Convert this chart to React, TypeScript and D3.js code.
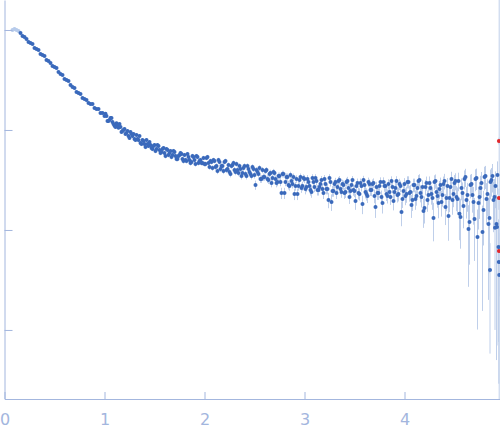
import React, { useEffect, useRef } from 'react';
import * as d3 from 'd3';

type Point = [number, number, number]; // q, intensity, sigma

// points left out of the fit (drawn pale)
const excluded: Point[] = [
  [0.08, 100, 1.2], [0.10, 102.3, 1.2], [0.12, 100, 1.1], [0.14, 97.7, 1.1],
];

const lowQ: Point[] = [
  [0.16, 93.3, 0.9], [0.18, 87.1, 0.9], [0.20, 85.1, 0.8], [0.22, 81.3, 0.8], [0.24, 75.9, 0.8],
  [0.26, 74.1, 0.7], [0.28, 72.4, 0.7], [0.30, 66.1, 0.7], [0.32, 64.6, 0.6], [0.34, 63.1, 0.6],
  [0.36, 57.5, 0.6], [0.38, 56.2, 0.6], [0.40, 55.0, 0.5], [0.42, 50.1, 0.5], [0.44, 49.0, 0.5],
  [0.46, 46.8, 0.5], [0.48, 43.7, 0.5], [0.50, 42.7, 0.5], [0.52, 41.7, 0.4], [0.54, 38.0, 0.4],
  [0.56, 36.3, 0.4], [0.58, 35.5, 0.4], [0.60, 32.4, 0.4], [0.62, 31.6, 0.4], [0.64, 30.9, 0.4],
  [0.66, 28.2, 0.35], [0.68, 26.9, 0.35], [0.70, 26.3, 0.35], [0.72, 24.0, 0.35], [0.74, 23.4, 0.35],
  [0.76, 22.9, 0.3], [0.78, 20.9, 0.3], [0.80, 20.4, 0.3], [0.82, 20.0, 0.3], [0.84, 18.6, 0.3],
  [0.86, 18.2, 0.3], [0.88, 18.2, 0.3], [0.90, 16.6, 0.3], [0.92, 16.2, 0.3], [0.94, 16.2, 0.3],
  [0.96, 14.8, 0.3], [0.98, 14.8, 0.3],
];

const midQ: Point[] = [
  [1.00, 13.8, 0.45], [1.02, 13.8, 0.45], [1.04, 12.3, 0.45], [1.06, 13.2, 0.45], [1.08, 12.0, 0.4],
  [1.10, 11.0, 0.4], [1.12, 11.7, 0.4], [1.14, 10.5, 0.4], [1.16, 10.7, 0.4], [1.18, 9.77, 0.4],
  [1.20, 10.2, 0.4], [1.22, 9.33, 0.38], [1.24, 8.71, 0.38], [1.26, 9.55, 0.38], [1.28, 8.71, 0.36],
  [1.30, 8.13, 0.36], [1.32, 8.91, 0.36], [1.34, 7.94, 0.35], [1.36, 7.41, 0.35], [1.38, 7.94, 0.35],
  [1.40, 7.24, 0.34], [1.42, 7.94, 0.34], [1.44, 6.92, 0.33], [1.46, 7.08, 0.33], [1.48, 6.46, 0.33],
  [1.50, 7.08, 0.32], [1.52, 6.46, 0.32], [1.54, 6.92, 0.32], [1.56, 5.89, 0.31], [1.58, 6.46, 0.31],
  [1.60, 5.89, 0.31], [1.62, 6.46, 0.3], [1.64, 5.62, 0.3], [1.66, 6.17, 0.3], [1.68, 5.62, 0.3],
  [1.70, 6.03, 0.3], [1.72, 5.13, 0.29], [1.74, 5.50, 0.29], [1.76, 5.89, 0.29], [1.78, 5.13, 0.29],
  [1.80, 5.62, 0.28], [1.82, 4.90, 0.28], [1.84, 5.37, 0.28], [1.86, 4.68, 0.28], [1.88, 5.50, 0.28],
  [1.90, 5.01, 0.27], [1.92, 5.50, 0.27], [1.94, 4.68, 0.27], [1.96, 5.01, 0.27], [1.98, 4.68, 0.27],
];

const midQOdd: Point[] = [
  [1.01, 14.5, 0.45], [1.03, 12.3, 0.45], [1.05, 12.6, 0.45], [1.07, 13.2, 0.42], [1.09, 11.5, 0.42],
  [1.11, 10.7, 0.4], [1.13, 11.2, 0.4], [1.15, 11.5, 0.4], [1.17, 9.55, 0.4], [1.19, 10.0, 0.4],
  [1.21, 9.12, 0.38], [1.23, 9.77, 0.38], [1.25, 8.32, 0.38], [1.27, 9.12, 0.37], [1.29, 9.12, 0.36],
  [1.31, 7.94, 0.36], [1.33, 8.13, 0.36], [1.35, 8.71, 0.35], [1.37, 7.24, 0.35], [1.39, 7.76, 0.35],
  [1.41, 6.76, 0.34], [1.43, 7.24, 0.34], [1.45, 7.59, 0.33], [1.47, 6.61, 0.33], [1.49, 6.92, 0.33],
  [1.51, 6.17, 0.32], [1.53, 7.08, 0.32], [1.55, 6.31, 0.32], [1.57, 6.03, 0.31], [1.59, 6.61, 0.31],
  [1.61, 5.50, 0.31], [1.63, 6.31, 0.3], [1.65, 5.89, 0.3], [1.67, 5.37, 0.3], [1.69, 6.17, 0.3],
  [1.71, 5.50, 0.3], [1.73, 5.13, 0.29], [1.75, 5.62, 0.29], [1.77, 5.75, 0.29], [1.79, 4.90, 0.29],
  [1.81, 5.01, 0.28], [1.83, 5.75, 0.28], [1.85, 5.01, 0.28], [1.87, 4.79, 0.28], [1.89, 5.37, 0.28],
  [1.91, 4.57, 0.27], [1.93, 5.37, 0.27], [1.95, 4.90, 0.27], [1.97, 4.68, 0.27], [1.99, 5.25, 0.27],
];

const plateauQ: Point[] = [
  [2.00, 4.57, 0.27], [2.02, 5.25, 0.27], [2.04, 4.68, 0.27], [2.06, 4.90, 0.27], [2.08, 4.17, 0.27],
  [2.10, 4.90, 0.27], [2.12, 4.37, 0.27], [2.14, 5.01, 0.27], [2.16, 4.07, 0.27], [2.18, 4.37, 0.27],
  [2.20, 4.79, 0.27], [2.22, 3.98, 0.27], [2.24, 4.47, 0.27], [2.26, 3.63, 0.27], [2.28, 4.47, 0.27],
  [2.30, 3.98, 0.27], [2.32, 4.57, 0.27], [2.34, 3.72, 0.27], [2.36, 4.07, 0.27], [2.38, 3.72, 0.27],
  [2.40, 4.37, 0.27], [2.42, 3.47, 0.27], [2.44, 4.07, 0.27], [2.46, 3.63, 0.27], [2.48, 4.27, 0.27],
  [2.50, 3.55, 0.28], [2.52, 3.98, 0.28], [2.54, 3.63, 0.28], [2.56, 3.24, 0.28], [2.58, 3.98, 0.28],
  [2.60, 3.39, 0.28], [2.62, 3.98, 0.28], [2.64, 3.16, 0.28], [2.66, 3.72, 0.28], [2.68, 3.31, 0.28],
  [2.70, 3.72, 0.28], [2.72, 2.95, 0.28], [2.74, 3.47, 0.28], [2.76, 3.02, 0.28], [2.78, 3.63, 0.28],
  [2.80, 2.34, 0.3], [2.82, 3.39, 0.28], [2.84, 2.82, 0.28], [2.86, 3.55, 0.28], [2.88, 2.88, 0.28],
  [2.90, 2.29, 0.3], [2.92, 3.24, 0.28], [2.94, 2.75, 0.28], [2.96, 3.39, 0.28], [2.98, 2.75, 0.28],
  [3.00, 3.24, 0.3], [3.02, 2.69, 0.3], [3.04, 3.02, 0.3], [3.06, 2.51, 0.3], [3.08, 3.31, 0.3],
  [3.10, 2.69, 0.3], [3.12, 3.09, 0.3], [3.14, 2.51, 0.3], [3.16, 2.88, 0.3], [3.18, 2.57, 0.3],
  [3.20, 3.24, 0.3], [3.22, 2.57, 0.3], [3.24, 2.00, 0.35], [3.26, 3.02, 0.3], [3.28, 2.45, 0.3],
  [3.30, 2.88, 0.3], [3.32, 2.34, 0.3], [3.34, 3.09, 0.3], [3.36, 2.57, 0.3], [3.38, 2.88, 0.3],
  [3.40, 2.34, 0.3], [3.42, 3.02, 0.3], [3.44, 2.63, 0.3], [3.46, 2.45, 0.3], [3.48, 3.16, 0.3],
  [3.50, 2.45, 0.32], [3.52, 2.75, 0.32], [3.54, 2.34, 0.32], [3.56, 2.95, 0.32], [3.58, 1.82, 0.38],
  [3.60, 2.82, 0.32], [3.62, 2.29, 0.32], [3.64, 3.02, 0.32], [3.66, 2.51, 0.32], [3.68, 2.88, 0.32],
  [3.70, 2.19, 0.34], [3.72, 2.69, 0.34], [3.74, 2.34, 0.34], [3.76, 3.02, 0.34], [3.78, 1.86, 0.4],
  [3.80, 2.75, 0.34], [3.82, 2.29, 0.34], [3.84, 2.88, 0.34], [3.86, 2.14, 0.36], [3.88, 2.69, 0.36],
  [3.90, 2.40, 0.36], [3.92, 3.09, 0.36], [3.94, 2.29, 0.36], [3.96, 2.75, 0.36], [3.98, 2.04, 0.38],
];

const plateauQOdd: Point[] = [
  [2.01, 4.57, 0.27], [2.03, 5.37, 0.27], [2.05, 4.27, 0.27], [2.07, 4.79, 0.27], [2.09, 5.01, 0.27],
  [2.11, 4.27, 0.27], [2.13, 3.89, 0.27], [2.15, 4.79, 0.27], [2.17, 4.37, 0.27], [2.19, 3.89, 0.27],
  [2.21, 4.90, 0.27], [2.23, 4.07, 0.27], [2.25, 3.80, 0.27], [2.27, 4.37, 0.27], [2.29, 4.68, 0.27],
  [2.31, 3.80, 0.27], [2.33, 3.98, 0.27], [2.35, 4.37, 0.27], [2.37, 3.47, 0.27], [2.39, 4.17, 0.27],
  [2.41, 3.63, 0.27], [2.43, 4.37, 0.27], [2.45, 3.80, 0.27], [2.47, 3.47, 0.27], [2.49, 4.07, 0.27],
  [2.51, 2.82, 0.3], [2.53, 3.80, 0.28], [2.55, 4.17, 0.28], [2.57, 3.24, 0.28], [2.59, 3.39, 0.28],
  [2.61, 3.89, 0.28], [2.63, 3.24, 0.28], [2.65, 3.63, 0.28], [2.67, 2.95, 0.28], [2.69, 3.80, 0.28],
  [2.71, 3.24, 0.28], [2.73, 3.02, 0.28], [2.75, 3.47, 0.28], [2.77, 2.34, 0.3], [2.79, 3.63, 0.28],
  [2.81, 3.02, 0.28], [2.83, 3.39, 0.28], [2.85, 2.75, 0.28], [2.87, 3.09, 0.28], [2.89, 3.39, 0.28],
  [2.91, 2.75, 0.28], [2.93, 2.29, 0.3], [2.95, 3.16, 0.28], [2.97, 2.63, 0.28], [2.99, 3.31, 0.28],
  [3.01, 2.57, 0.3], [3.03, 3.24, 0.3], [3.05, 2.75, 0.3], [3.07, 2.40, 0.3], [3.09, 3.02, 0.3],
  [3.11, 3.31, 0.3], [3.13, 2.51, 0.3], [3.15, 2.69, 0.3], [3.17, 3.16, 0.3], [3.19, 2.34, 0.3],
  [3.21, 2.88, 0.3], [3.23, 2.57, 0.3], [3.25, 3.31, 0.3], [3.27, 1.91, 0.36], [3.29, 2.45, 0.3],
  [3.31, 3.02, 0.3], [3.33, 2.69, 0.3], [3.35, 3.16, 0.3], [3.37, 2.40, 0.3], [3.39, 2.82, 0.3],
  [3.41, 2.40, 0.31], [3.43, 3.09, 0.31], [3.45, 2.14, 0.32], [3.47, 2.82, 0.31], [3.49, 2.51, 0.31],
  [3.51, 1.95, 0.36], [3.53, 2.95, 0.32], [3.55, 2.29, 0.32], [3.57, 2.75, 0.32], [3.59, 3.16, 0.32],
  [3.61, 2.40, 0.33], [3.63, 2.19, 0.33], [3.65, 2.88, 0.33], [3.67, 2.51, 0.33], [3.69, 2.95, 0.33],
  [3.71, 1.70, 0.38], [3.73, 2.34, 0.34], [3.75, 2.75, 0.34], [3.77, 2.14, 0.34], [3.79, 3.02, 0.34],
  [3.81, 2.75, 0.35], [3.83, 2.19, 0.35], [3.85, 2.40, 0.35], [3.87, 3.09, 0.35], [3.89, 1.95, 0.38],
  [3.91, 2.63, 0.36], [3.93, 2.24, 0.36], [3.95, 2.88, 0.37], [3.97, 1.51, 0.42], [3.99, 2.45, 0.38],
];

const highQ: Point[] = [
  [4.00, 2.88, 0.42], [4.02, 2.29, 0.42], [4.04, 3.02, 0.42], [4.06, 2.40, 0.42], [4.08, 2.00, 0.45],
  [4.10, 2.82, 0.44], [4.12, 2.19, 0.44], [4.14, 3.09, 0.45], [4.16, 2.34, 0.45], [4.18, 2.69, 0.45],
  [4.20, 1.66, 0.5], [4.22, 2.95, 0.47], [4.24, 2.24, 0.47], [4.26, 2.63, 0.48], [4.28, 2.09, 0.5],
  [4.30, 3.02, 0.5], [4.32, 2.40, 0.5], [4.34, 1.86, 0.55], [4.36, 2.82, 0.52], [4.38, 2.24, 0.53],
  [4.40, 3.09, 0.55], [4.42, 2.09, 0.55], [4.44, 1.38, 0.6], [4.46, 2.69, 0.57], [4.48, 2.00, 0.58],
];

const highQOdd: Point[] = [
  [4.01, 2.19, 0.42], [4.03, 3.02, 0.42], [4.05, 2.34, 0.42], [4.07, 1.78, 0.46], [4.09, 2.82, 0.44],
  [4.11, 2.04, 0.45], [4.13, 2.63, 0.45], [4.15, 3.16, 0.45], [4.17, 2.14, 0.46], [4.19, 1.55, 0.5],
  [4.21, 2.69, 0.47], [4.23, 2.00, 0.48], [4.25, 2.95, 0.48], [4.27, 2.29, 0.5], [4.29, 1.32, 0.55],
  [4.31, 3.09, 0.5], [4.33, 2.19, 0.52], [4.35, 2.57, 0.52], [4.37, 1.91, 0.55], [4.39, 2.88, 0.54],
  [4.41, 1.70, 0.58], [4.43, 2.75, 0.56], [4.45, 2.09, 0.58], [4.47, 3.24, 0.58], [4.49, 2.29, 0.6],
];

const edgeQ: Point[] = [
  [4.50, 2.95, 0.6], [4.52, 2.14, 0.6], [4.54, 3.09, 0.65], [4.56, 1.35, 0.7], [4.58, 2.34, 0.65],
  [4.60, 3.24, 0.7], [4.62, 2.00, 0.7], [4.64, 1.02, 0.75], [4.66, 2.82, 0.75], [4.68, 2.24, 0.75],
  [4.70, 1.29, 0.8], [4.72, 3.31, 0.8], [4.74, 1.86, 0.85], [4.76, 2.63, 0.85], [4.78, 0.955, 0.8],
  [4.80, 3.39, 0.9], [4.82, 2.04, 0.9], [4.84, 1.15, 0.95], [4.855, 0.398, 0.34], [4.86, 3.02, 1.0],
  [4.88, 3.47, 1.1], [4.90, 2.14, 1.1], [4.905, 1.05, 0.95], [4.92, 1.15, 1.1], [4.93, 3.55, 1.3],
  [4.94, 0.676, 0.6], [4.943, 0.479, 0.45], [4.947, 0.355, 200],
];

const edgeQOdd: Point[] = [
  [4.51, 3.09, 0.6], [4.53, 2.04, 0.62], [4.55, 1.45, 0.66], [4.57, 2.63, 0.65], [4.59, 1.74, 0.7],
  [4.61, 3.39, 0.7], [4.63, 2.24, 0.72], [4.65, 1.20, 0.75], [4.67, 2.88, 0.75], [4.69, 1.91, 0.78],
  [4.71, 3.24, 0.8], [4.73, 0.851, 0.75], [4.75, 2.14, 0.85], [4.77, 2.95, 0.85], [4.79, 1.58, 0.88],
  [4.81, 3.47, 0.9], [4.83, 2.29, 0.92], [4.85, 1.32, 0.95], [4.87, 3.16, 1.0], [4.89, 2.00, 1.05],
  [4.91, 2.75, 1.1], [4.925, 1.07, 1.0],
];

// outliers flagged in red
const flagged: Point[] = [
  [4.944, 7.76, 0.6], [4.944, 2.09, 0.5], [4.944, 0.617, 0.4],
];

const xTicks = [0, 1, 2, 3, 4];
const yTicks = [100, 10, 1, 0.1];

const axisColor = '#a3b6de';

export default function App() {
  const svgRef = useRef<SVGSVGElement>(null);

  useEffect(() => {
    if (!svgRef.current) return;
    const svg = d3.select(svgRef.current);
    svg.selectAll('*').remove();

    const W = 500;
    const H = 437;
    const left = 4.5, right = 499.5, top = 0, bottom = 399;

    const x = d3.scaleLinear().domain([0, 4.95]).range([left, right]);
    const y = d3.scaleLog().domain([0.0204, 199.5]).range([bottom, top]);
    const [yMin, yMax] = y.domain();

    svg.attr('width', W).attr('height', H);

    const measured = [
      ...lowQ, ...midQ, ...midQOdd, ...plateauQ, ...plateauQOdd,
      ...highQ, ...highQOdd, ...edgeQ, ...edgeQOdd,
    ];

    const drawBars = (pts: Point[], color: string) => {
      svg.append('g')
        .selectAll('line')
        .data(pts)
        .join('line')
        .attr('x1', d => x(d[0]))
        .attr('x2', d => x(d[0]))
        .attr('y1', d => y(Math.min(d[1] + d[2], yMax)))
        .attr('y2', d => y(d[1] - d[2] > yMin ? d[1] - d[2] : yMin))
        .attr('stroke', color)
        .attr('stroke-width', 1);
    };

    const drawDots = (pts: Point[], color: string) => {
      svg.append('g')
        .selectAll('circle')
        .data(pts)
        .join('circle')
        .attr('cx', d => x(d[0]))
        .attr('cy', d => y(d[1]))
        .attr('r', 2)
        .attr('fill', color);
    };

    drawBars(excluded, '#d6e1f3');
    drawBars(measured, '#bfcfea');
    drawBars(flagged, '#bfcfea');
    drawDots(excluded, '#b7cbeb');
    drawDots(measured, '#3a69bb');
    drawDots(flagged, '#e0282c');

    // x axis, ticks pointing inward
    const xAxis = svg.append('g')
      .attr('transform', `translate(0,${bottom})`)
      .call(d3.axisBottom(x).tickValues(xTicks).tickSizeInner(-7).tickSizeOuter(0).tickPadding(15).tickFormat(d3.format('d')));
    xAxis.select('.domain').attr('stroke', axisColor);
    xAxis.selectAll('.tick line').attr('stroke', axisColor);
    xAxis.selectAll('.tick text')
      .attr('fill', axisColor)
      .style('font-family', 'DejaVu Sans, sans-serif')
      .style('font-size', '16px');

    // y axis, log decades without labels
    const yAxis = svg.append('g')
      .attr('transform', `translate(${left},0)`)
      .call(d3.axisLeft(y).tickValues(yTicks).tickSizeInner(-8).tickSizeOuter(0).tickFormat(() => ''));
    yAxis.select('.domain').attr('stroke', axisColor);
    yAxis.selectAll('.tick line').attr('stroke', axisColor);
  }, []);

  return <svg ref={svgRef} style={{ position: 'absolute', left: 0, top: 0 }}></svg>;
}
